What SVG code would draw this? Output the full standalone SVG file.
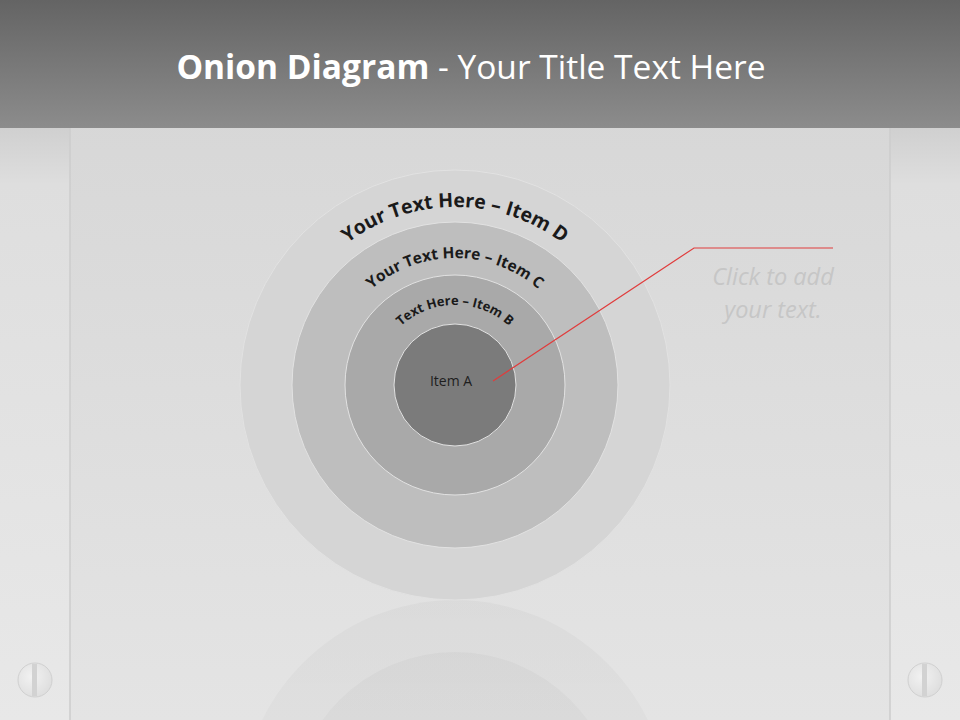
<svg xmlns="http://www.w3.org/2000/svg" width="960" height="720" viewBox="0 0 960 720">
<defs>
<linearGradient id="hdr" x1="0" y1="0" x2="0" y2="1">
<stop offset="0" stop-color="#646464"/>
<stop offset="1" stop-color="#8c8c8c"/>
</linearGradient>
<linearGradient id="body" x1="0" y1="0" x2="0" y2="1">
<stop offset="0" stop-color="#c4c4c4"/>
<stop offset="0.08" stop-color="#d6d6d6"/>
<stop offset="1" stop-color="#e4e4e4"/>
</linearGradient>
<linearGradient id="side" x1="0" y1="0" x2="0" y2="1">
<stop offset="0" stop-color="#cfcfcf"/>
<stop offset="0.1" stop-color="#dedede"/>
<stop offset="1" stop-color="#e8e8e8"/>
</linearGradient>
<linearGradient id="refl" x1="0" y1="0" x2="0" y2="1">
<stop offset="0" stop-color="#000" stop-opacity="0.03"/>
<stop offset="1" stop-color="#000" stop-opacity="0.0"/>
</linearGradient>
<radialGradient id="screw" cx="0.4" cy="0.4" r="0.7">
<stop offset="0" stop-color="#f2f2f2"/>
<stop offset="1" stop-color="#dcdcdc"/>
</radialGradient>
<path id="arcD" d="M 277 385 A 178 178 0 0 1 633 385"/>
<path id="arcC" d="M 328 385 A 127 127 0 0 1 582 385"/>
<path id="arcB" d="M 375 385 A 80 80 0 0 1 535 385"/>
</defs>
<style>
.arc{font-family:"Open Sans","Liberation Sans",sans-serif;font-weight:700;fill:#1a1a1a}
.ring{stroke:#e2e2e2;stroke-width:1}
</style>
<rect x="0" y="0" width="960" height="720" fill="url(#body)"/>
<g id="side-panels">
<rect x="0" y="125" width="70" height="595" fill="url(#side)"/>
<rect x="890" y="125" width="70" height="595" fill="url(#side)"/>
<line x1="70" y1="125" x2="70" y2="720" stroke="#cdcdcd" stroke-width="1.5"/>
<line x1="890" y1="125" x2="890" y2="720" stroke="#cdcdcd" stroke-width="1.5"/>
</g>
<rect x="0" y="0" width="960" height="128" fill="url(#hdr)"/>
<g id="screws">
<circle cx="35" cy="680" r="17" fill="url(#screw)" stroke="#d0d0d0"/>
<rect x="32" y="664" width="5" height="32" fill="#d2d2d2"/>
<circle cx="925" cy="680" r="17" fill="url(#screw)" stroke="#d0d0d0"/>
<rect x="922" y="664" width="5" height="32" fill="#d2d2d2"/>
</g>
<text x="471" y="79" text-anchor="middle" font-family="Open Sans, Liberation Sans, sans-serif" font-size="33.5" fill="#ffffff"><tspan font-weight="700">Onion Diagram</tspan> - Your Title Text Here</text>
<g id="reflection">
<circle cx="455" cy="815" r="215" fill="url(#refl)"/>
<circle cx="455" cy="815" r="163" fill="url(#refl)"/>
</g>
<g id="item-d">
<circle class="ring" cx="455" cy="385" r="215" fill="#d5d5d5"/>
<text class="arc" font-size="19.5"><textPath href="#arcD" startOffset="50%" text-anchor="middle">Your Text Here – Item D</textPath></text>
</g>
<g id="item-c">
<circle class="ring" cx="455" cy="385" r="163" fill="#bebebe"/>
<text class="arc" font-size="15.5"><textPath href="#arcC" startOffset="50%" text-anchor="middle">Your Text Here – Item C</textPath></text>
</g>
<g id="item-b">
<circle class="ring" cx="455" cy="385" r="110" fill="#a9a9a9"/>
<text class="arc" font-size="13"><textPath href="#arcB" startOffset="50%" text-anchor="middle">Text Here – Item B</textPath></text>
</g>
<g id="item-a">
<circle class="ring" cx="455" cy="385" r="61" fill="#7b7b7b" stroke="#8a8a8a"/>
<text x="451" y="386" text-anchor="middle" font-family="Open Sans, Liberation Sans, sans-serif" font-size="14" fill="#1e1e1e">Item A</text>
</g>
<g id="connectors">
<polyline points="493,381 694,248 833,248" fill="none" stroke="#e03c3c" stroke-width="1.2"/>
</g>
<g id="callout">
<text x="773" y="285" text-anchor="middle" font-family="Open Sans, Liberation Sans, sans-serif" font-style="italic" font-size="23.5" fill="#c6c6c6">Click  to add</text>
<text x="773" y="318" text-anchor="middle" font-family="Open Sans, Liberation Sans, sans-serif" font-style="italic" font-size="23.5" fill="#c6c6c6">your text.</text>
</g>
</svg>
